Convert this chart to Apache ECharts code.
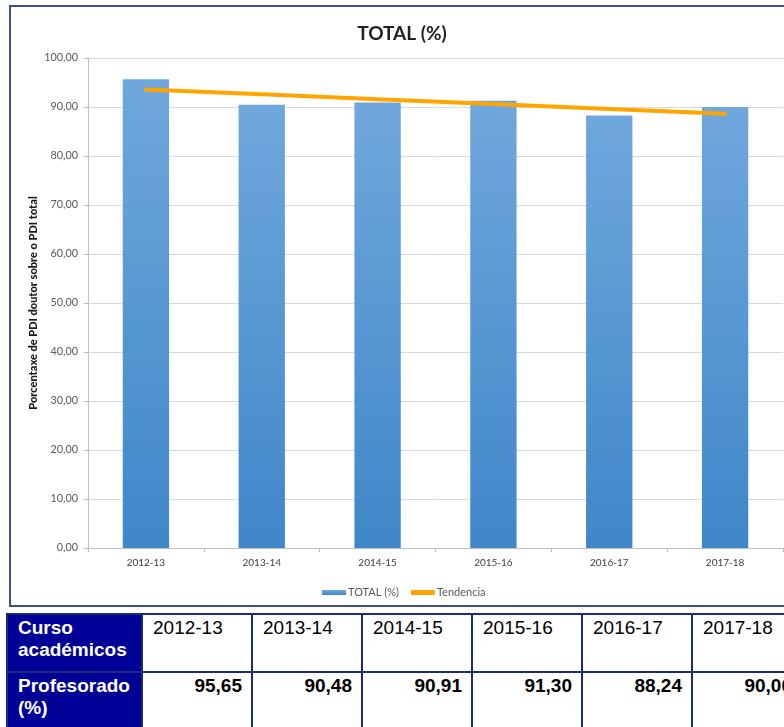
<!DOCTYPE html>
<html>
<head>
<meta charset="utf-8">
<script src="https://cdn.jsdelivr.net/npm/echarts@6/dist/echarts.min.js"></script>
<style>
  html, body { margin:0; padding:0; width:784px; height:727px; overflow:hidden; background:#fff; }
  #chart { position:absolute; left:9px; top:5px; width:800px; height:598px; border:2px solid #3f4f8e; }
  #tbl { position:absolute; left:6px; top:613px; border-collapse:collapse; font-family:"Liberation Sans", Arial, sans-serif; font-size:19px; }
  #tbl td { border:2px solid #1c2a7a; vertical-align:top; padding:2px 9px 0 10px; line-height:22px; box-sizing:border-box; width:110px; min-width:110px; max-width:110px; color:#000; white-space:nowrap; }
  #tbl td.hd { background:#000096; color:#fff; font-weight:bold; width:135px; min-width:135px; max-width:135px; white-space:normal; }
  #tbl td.val { text-align:right; font-weight:bold; }
  #tbl tr.r1 td { height:58px; }
  #tbl tr.r2 td { height:64px; }
</style>
</head>
<body>
<div id="chart"></div>
<table id="tbl"></table>
<script>
const categories = ['2012-13', '2013-14', '2014-15', '2015-16', '2016-17', '2017-18'];
const totalValues = [95.65, 90.48, 90.91, 91.30, 88.24, 90.00];
const trendValues = [93.57, 92.58, 91.59, 90.60, 89.61, 88.63];
const titleText = 'TOTAL (%)';
const yAxisName = 'Porcentaxe de PDI doutor sobre o PDI total';
const seriesNames = ['TOTAL (%)', 'Tendencia'];
const rowHeaders = ['Curso académicos', 'Profesorado (%)'];

const fmt = v => v.toFixed(2).replace('.', ',');

const chart = echarts.init(document.getElementById('chart'));
chart.setOption({
  animation: false,
  textStyle: { fontFamily: 'Lato' },
  title: {
    text: titleText, left: 386, top: 12, textAlign: 'center',
    textStyle: { fontFamily: 'Lato', fontWeight: 'bold', fontSize: 19, color: '#222' }
  },
  legend: {
    left: 306, top: 575, itemWidth: 24, itemHeight: 5, itemGap: 12,
    textStyle: { fontFamily: 'Lato', fontSize: 11, color: '#595959', padding: [0, 0, 0, -3] },
    data: [{ name: seriesNames[0], icon: 'rect' }, { name: seriesNames[1], icon: 'roundRect' }]
  },
  grid: { left: 77, top: 51, width: 695, height: 490, containLabel: false },
  xAxis: {
    type: 'category', data: categories, boundaryGap: true,
    axisLine: { lineStyle: { color: '#bfbfbf', width: 1 } },
    axisTick: { show: true, length: 4, lineStyle: { color: '#bfbfbf' } },
    axisLabel: { margin: 10, fontSize: 10, color: '#404040', fontFamily: 'Lato' }
  },
  yAxis: {
    type: 'value', min: 0, max: 100, interval: 10,
    name: yAxisName, nameLocation: 'middle', nameGap: 49, nameRotate: 90, nameMoveOverlap: false,
    nameTextStyle: { fontFamily: 'Lato', fontWeight: 900, fontSize: 11, color: '#1a1a1a' },
    axisLine: { show: true, lineStyle: { color: '#bfbfbf', width: 1 } },
    axisTick: { show: true, length: 4, lineStyle: { color: '#bfbfbf' } },
    axisLabel: { margin: 10, fontSize: 10.8, color: '#595959', fontFamily: 'Lato', formatter: v => fmt(v) },
    splitLine: { lineStyle: { color: '#d9d9d9', width: 1 } }
  },
  series: [
    {
      name: seriesNames[0], type: 'bar', data: totalValues, barWidth: '40%',
      itemStyle: {
        color: new echarts.graphic.LinearGradient(0, 0, 0, 1, [
          { offset: 0, color: '#70a7dc' }, { offset: 1, color: '#3f87c9' }
        ])
      }
    },
    {
      name: seriesNames[1], type: 'line', data: trendValues, showSymbol: false, symbol: 'none',
      lineStyle: { color: '#ffa500', width: 4, cap: 'round' }, itemStyle: { color: '#ffa500' }
    }
  ]
});

const tbl = document.getElementById('tbl');
const r1 = document.createElement('tr'); r1.className = 'r1';
const r2 = document.createElement('tr'); r2.className = 'r2';
const h1 = document.createElement('td'); h1.className = 'hd'; h1.textContent = rowHeaders[0]; r1.appendChild(h1);
const h2 = document.createElement('td'); h2.className = 'hd'; h2.textContent = rowHeaders[1]; r2.appendChild(h2);
categories.forEach((c, i) => {
  const a = document.createElement('td'); a.textContent = c; r1.appendChild(a);
  const b = document.createElement('td'); b.className = 'val'; b.textContent = fmt(totalValues[i]); r2.appendChild(b);
});
tbl.appendChild(r1); tbl.appendChild(r2);
</script>
</body>
</html>
